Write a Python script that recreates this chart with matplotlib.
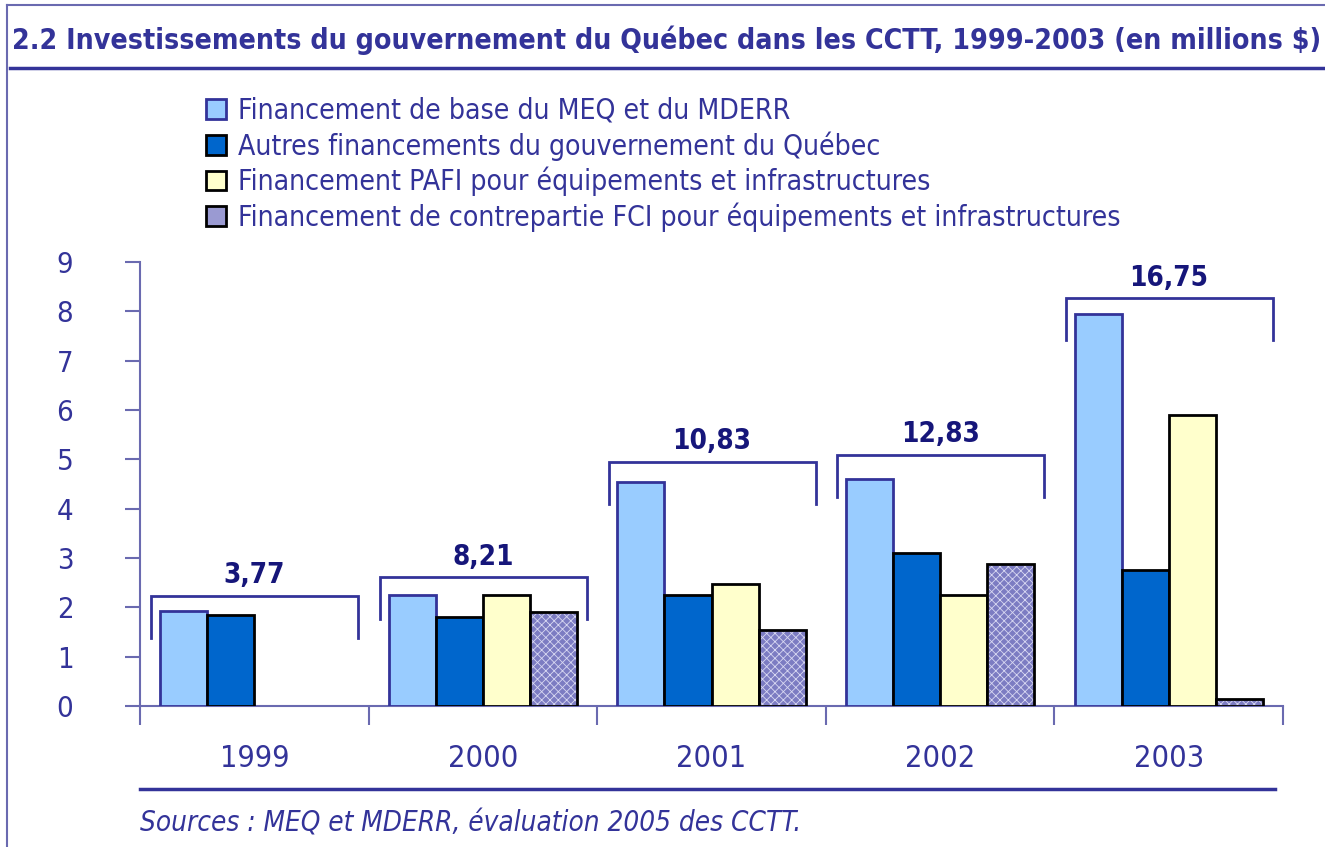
import numpy as np
import matplotlib
matplotlib.use('Agg')
import matplotlib.pyplot as plt
from matplotlib import font_manager
from matplotlib.lines import Line2D
from matplotlib.patches import Patch

# condensed font like Arial Narrow if we have it
names = {f.name for f in font_manager.fontManager.ttflist}
if 'Liberation Sans Narrow' in names:
    plt.rcParams['font.family'] = ['Liberation Sans Narrow', 'DejaVu Sans']
else:
    plt.rcParams['font.family'] = ['DejaVu Sans']
    plt.rcParams['font.stretch'] = 'condensed'

years = ['1999', '2000', '2001', '2002', '2003']
base_meq = [1.92, 2.25, 4.55, 4.60, 7.95]
autres = [1.85, 1.80, 2.25, 3.10, 2.75]
pafi = [0.00, 2.25, 2.48, 2.25, 5.90]
fci = [0.00, 1.91, 1.55, 2.88, 0.15]
totals = ['3,77', '8,21', '10,83', '12,83', '16,75']
bracket_level = [2.23, 2.61, 4.95, 5.09, 8.27]

labels = ['Financement de base du MEQ et du MDERR',
          'Autres financements du gouvernement du Québec',
          'Financement PAFI pour équipements et infrastructures',
          'Financement de contrepartie FCI pour équipements et infrastructures']

navy = '#333399'
W, H = 1325, 847
fig = plt.figure(figsize=(W / 100, H / 100), dpi=100)
ax = fig.add_axes([140 / W, 1 - 706 / H, (1283 - 140) / W, (706 - 262) / H])


def lw_for(vals):
    # no outline for empty bars (1999)
    return [2 if v > 0 else 0 for v in vals]


x = np.arange(len(years))
w = 0.206
ax.bar(x - 1.5 * w, base_meq, w, color='#99CCFF', edgecolor=navy, linewidth=lw_for(base_meq), zorder=3)
ax.bar(x - 0.5 * w, autres, w, color='#0066CC', edgecolor='black', linewidth=lw_for(autres), zorder=3)
ax.bar(x + 0.5 * w, pafi, w, color='#FFFFCC', edgecolor='black', linewidth=lw_for(pafi), zorder=3)
plt.rcParams['hatch.linewidth'] = 0.6
ax.bar(x + 1.5 * w, fci, w, color='#7C7CC2', edgecolor='#D8D8F2', hatch='xxxx',
       linewidth=0, zorder=3)
ax.bar(x + 1.5 * w, fci, w, color='none', edgecolor='black', linewidth=lw_for(fci), zorder=4)

# brackets with totals
for i, (lvl, t) in enumerate(zip(bracket_level, totals)):
    x0, x1 = i - 0.5 + 0.05, i + 0.5 - 0.045
    ax.plot([x0, x0, x1, x1], [lvl - 0.85, lvl, lvl, lvl - 0.85], color=navy,
            lw=2, solid_joinstyle='miter', clip_on=False, zorder=5)
    ax.annotate(t, (i, lvl), xytext=(0, 9), textcoords='offset points',
                ha='center', va='baseline', fontsize=20, fontweight='bold',
                color='#16167A')

ax.set_xlim(-0.5, 4.5)
ax.set_ylim(0, 9)
ax.set_yticks(range(10))
ax.set_xticks(x)
ax.set_xticklabels(years)
ax.set_xticks(np.arange(-0.5, 5, 1), minor=True)
ax.tick_params(axis='y', colors='#6A6AB0', labelcolor=navy, labelsize=21,
               length=11, width=1.5, pad=37)
ax.tick_params(axis='x', which='major', length=0, labelcolor=navy, labelsize=22, pad=27)
ax.tick_params(axis='x', which='minor', colors='#6A6AB0', length=14, width=1.5)
for s in ['top', 'right']:
    ax.spines[s].set_visible(False)
for s in ['left', 'bottom']:
    ax.spines[s].set_color('#6A6AB0')
    ax.spines[s].set_linewidth(1.5)

handles = [Patch(facecolor='#99CCFF', edgecolor=navy, linewidth=2),
           Patch(facecolor='#0066CC', edgecolor='black', linewidth=2),
           Patch(facecolor='#FFFFCC', edgecolor='black', linewidth=2),
           Patch(facecolor='#9A9AD2', edgecolor='black', linewidth=2)]
leg = fig.legend(handles, labels, loc='upper left', bbox_to_anchor=(206 / W, 1 - 97 / H),
                 frameon=False, fontsize=20.3, handlelength=0.7, handleheight=0.7,
                 handletextpad=0.45, labelspacing=0.22, borderpad=0, borderaxespad=0)
for t in leg.get_texts():
    t.set_color(navy)

# frame, title, rules and source
fig.add_artist(Line2D([7 / W, 7 / W], [0, 1 - 5 / H], color='#6A6AB0', lw=1.5))
fig.add_artist(Line2D([7 / W, 1], [1 - 5 / H, 1 - 5 / H], color='#6A6AB0', lw=1.5))
fig.add_artist(Line2D([10 / W, 1], [1 - 68 / H, 1 - 68 / H], color=navy, lw=2.5))
fig.add_artist(Line2D([140 / W, 1275 / W], [1 - 789 / H, 1 - 789 / H], color=navy, lw=2.5))
fig.text(12 / W, 1 - 40 / H,
         '2.2 Investissements du gouvernement du Québec dans les CCTT, 1999-2003 (en millions $)',
         ha='left', va='center', fontsize=20.4, fontweight='bold', color=navy)
fig.text(140 / W, 1 - 823 / H, 'Sources : MEQ et MDERR, évaluation 2005 des CCTT.',
         ha='left', va='center', fontsize=20, style='italic', color=navy)

fig.savefig('out.png', dpi=100)
